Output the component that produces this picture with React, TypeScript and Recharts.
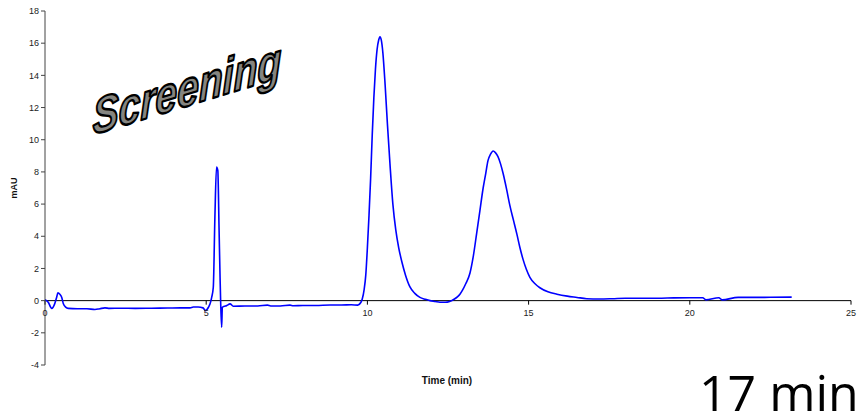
import React from 'react';
import { LineChart, Line, XAxis, YAxis, ReferenceLine, ReferenceDot } from 'recharts';

// Chromatogram trace: retention time (min) and absorbance (mAU)
const timeMin: number[] = [
  0.0, 0.1, 0.21, 0.3, 0.36, 0.4, 0.46, 0.52, 0.57, 0.64, 0.72, 1.0, 1.3, 1.55, 1.7, 1.86, 2.0, 2.33, 2.8, 3.3, 3.8,
  4.2, 4.5, 4.6, 4.75, 4.9, 4.98, 5.07, 5.12, 5.17, 5.22, 5.27, 5.32, 5.36, 5.4, 5.43, 5.45, 5.48, 5.5, 5.56, 5.63,
  5.74, 5.84, 6.2, 6.6, 6.9, 7.0, 7.3, 7.6, 7.7, 8.0, 8.4, 8.84, 9.2, 9.5, 9.7, 9.8, 9.84, 9.9, 9.95, 10.0, 10.05,
  10.1, 10.15, 10.2, 10.25, 10.3, 10.35, 10.39, 10.43, 10.48, 10.55, 10.62, 10.7, 10.79, 10.88, 10.97, 11.07, 11.18,
  11.32, 11.47, 11.63, 11.8, 11.94, 12.1, 12.25, 12.41, 12.55, 12.7, 12.8, 12.87, 12.95, 13.05, 13.18, 13.28, 13.39,
  13.49, 13.59, 13.67, 13.74, 13.82, 13.9, 13.97, 14.05, 14.13, 14.21, 14.32, 14.42, 14.53, 14.64, 14.73, 14.83,
  14.93, 15.04, 15.2, 15.35, 15.6, 15.88, 16.2, 16.5, 16.8, 17.2, 17.6, 18.0, 18.5, 19.0, 19.5, 20.0, 20.4, 20.5,
  20.9, 21.0, 21.5, 22.0, 22.5, 23.16,
];
const absorbanceMAU: number[] = [
  0.06, -0.1, -0.48, -0.2, 0.2, 0.48, 0.4, 0.2, -0.2, -0.4, -0.48, -0.5, -0.5, -0.55, -0.5, -0.45, -0.48, -0.47, -0.48, -0.47, -0.46,
  -0.45, -0.45, -0.4, -0.4, -0.45, -0.62, -0.41, -0.2, 0.2, 0.83, 5.2, 8.3, 8.1, 4.35, 1.45, -0.2, -1.66, -0.41, -0.35, -0.31,
  -0.2, -0.35, -0.33, -0.33, -0.28, -0.33, -0.33, -0.28, -0.32, -0.3, -0.3, -0.27, -0.27, -0.26, -0.28, -0.1, 0.1, 0.7, 1.6, 3.3, 5.3,
  7.6, 10.3, 12.6, 14.4, 15.6, 16.2, 16.4, 16.2, 15.4, 13.4, 11.0, 8.5, 6.0, 4.4, 3.3, 2.4, 1.6,
  0.85, 0.45, 0.2, 0.08, 0.0, -0.05, -0.1, -0.1, -0.05, 0.1, 0.25, 0.4, 0.65, 1.05, 1.7, 2.7, 4.2,
  5.6, 7.0, 7.9, 8.7, 9.1, 9.3, 9.2, 8.95, 8.5, 7.9, 6.9, 5.9, 5.0, 4.1, 3.3, 2.55,
  1.95, 1.45, 1.05, 0.8, 0.55, 0.4, 0.28, 0.2, 0.12, 0.1, 0.12, 0.15, 0.15, 0.15, 0.17, 0.18, 0.18, 0.05,
  0.18, 0.05, 0.2, 0.2, 0.21, 0.22,
];

const xTickValues: number[] = [0, 5, 10, 15, 20, 25];
const yTickValues: number[] = [-4, -2, 0, 2, 4, 6, 8, 10, 12, 14, 16, 18];

const data = timeMin.map((t, i) => ({ t, mAU: absorbanceMAU[i] }));

const FONT = '"Liberation Sans", Arial, sans-serif';

export default function App() {
  return (
    <div style={{ position: 'absolute', left: 0, top: 0, width: 866, height: 413, overflow: 'hidden', background: '#fff' }}>
      <LineChart width={866} height={413} data={data} margin={{ top: 11, right: 15, bottom: 48, left: 15 }}>
        <XAxis type="number" dataKey="t" domain={[0, 25]} hide />
        <YAxis
          type="number"
          domain={[-4, 18]}
          ticks={yTickValues}
          width={30}
          tickSize={4}
          tick={{ fontSize: 9, fill: '#222', fontFamily: FONT }}
          axisLine={{ stroke: '#444' }}
          tickLine={{ stroke: '#444' }}
          interval={0}
        />
        <ReferenceLine y={0} stroke="#000" strokeWidth={1} />
        {xTickValues.map((v) => (
          <ReferenceLine
            key={'tl' + v}
            segment={[{ x: v, y: 0 }, { x: v, y: -0.25 }]}
            stroke="#000"
            strokeWidth={1}
          />
        ))}
        {xTickValues.map((v) => (
          <ReferenceDot
            key={'lb' + v}
            x={v}
            y={0}
            r={0}
            fill="none"
            stroke="none"
            label={{ value: String(v), position: 'bottom', offset: 9, fontSize: 9, fill: '#222', fontFamily: FONT }}
          />
        ))}
        <Line
          type="monotone"
          dataKey="mAU"
          stroke="#0000ff"
          strokeWidth={1.6}
          dot={false}
          isAnimationActive={false}
        />
      </LineChart>
      <svg width={866} height={413} style={{ position: 'absolute', left: 0, top: 0, pointerEvents: 'none' }}>
        <text
          x={0}
          y={0}
          transform="translate(17,188) rotate(-90)"
          textAnchor="middle"
          fontFamily={FONT}
          fontWeight="bold"
          fontSize={9}
          fill="#111"
        >
          mAU
        </text>
        <text x={447} y={384} textAnchor="middle" fontFamily={FONT} fontWeight="bold" fontSize={10} fill="#111">
          Time (min)
        </text>
        <text
          x={0}
          y={0}
          transform="translate(187,106) skewY(-17) scale(1,1.3)"
          textAnchor="middle"
          fontFamily={FONT}
          fontWeight="bold"
          fontStyle="italic"
          fontSize={39}
          fill="#858580"
          stroke="#000"
          strokeWidth={1.8}
          strokeLinejoin="round"
        >
          Screening
        </text>
        <text x={699} y={411} fontFamily='"Open Sans", sans-serif' fontSize={50} fill="#000">
          17 min
        </text>
      </svg>
    </div>
  );
}
